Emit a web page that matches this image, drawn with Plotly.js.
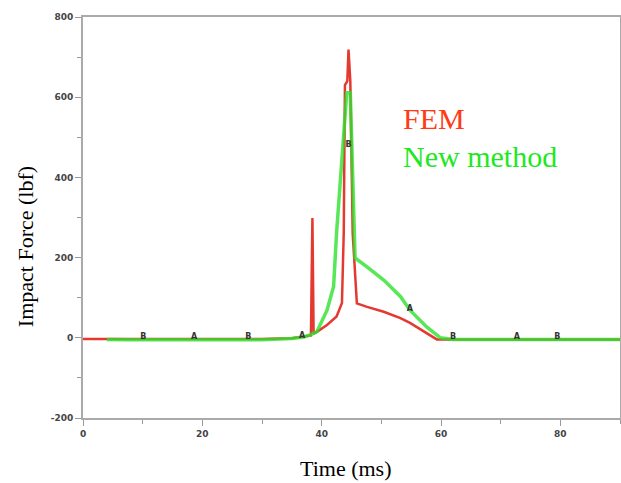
<!DOCTYPE html>
<html>
<head>
<meta charset="utf-8">
<script src="https://cdn.plot.ly/plotly-3.0.1.min.js"></script>
<style>html,body{margin:0;padding:0;background:#fff;}#chart{width:621px;height:483px;}</style>
</head>
<body>
<div id="chart"></div>
<script>
// FEM series (time in ms, force in lbf)
const femTime  = [0, 4, 10, 20, 30, 35, 37, 38.2, 38.45, 38.65, 39.5, 40.9, 42.5, 43.4, 43.7, 43.9, 44.3, 44.5, 44.8, 45.2, 45.9, 47.6, 50.4, 53.2, 54.8, 57.6, 59.3, 60, 90];
const femForce = [-3, -3, -3, -3, -3, -1, 3, 6, 299, 10, 18, 32, 53, 87, 262, 630, 640, 719, 640, 260, 86, 77, 65, 49, 37, 11, -4, -4, -4];

// New method series
const newTime  = [4, 7.4, 20, 30, 35, 37, 38.2, 39.2, 40.9, 42.0, 42.5, 43.4, 44.2, 44.8, 45.4, 45.6, 47.6, 50.4, 53.2, 54.8, 57.6, 59.9, 62, 90];
const newForce = [-4, -5, -5, -5, -2, 2, 8, 15, 69, 128, 262, 461, 611, 611, 262, 199, 177, 144, 103, 69, 27, 0, -4, -4];

// Small letter markers from the original plot
const markTime   = [10.1, 18.6, 27.7, 36.7, 44.5, 54.8, 62, 72.7, 79.5];
const markForce  = [3, 3, 3, 5, 480, 72, 3, 3, 3];
const markLabels = ["B", "A", "B", "A", "B", "A", "B", "A", "B"];

const xTicks = [0, 20, 40, 60, 80];
const yTicks = [-200, 0, 200, 400, 600, 800];

const traces = [
  {x: femTime, y: femForce, mode: 'lines', name: 'FEM',
   line: {color: 'rgba(225,35,25,0.9)', width: 2.5}, hoverinfo: 'skip'},
  {x: newTime, y: newForce, mode: 'lines', name: 'New method',
   line: {color: 'rgba(45,225,45,0.8)', width: 3.5}, hoverinfo: 'skip'},
  {x: markTime, y: markForce, mode: 'text', text: markLabels,
   textfont: {family: 'DejaVu Sans', size: 8, color: '#333', weight: 'bold'}, hoverinfo: 'skip'}
];

const axisCommon = {
  showline: true, linecolor: '#aaaaaa', linewidth: 2, mirror: true,
  ticks: 'outside', ticklen: 6, tickcolor: '#999', tickwidth: 1,
  showgrid: false, zeroline: false,
  tickfont: {family: 'DejaVu Sans', size: 9, color: '#444', weight: 'bold'}
};

const layout = {
  width: 621, height: 483,
  margin: {l: 83, r: 1, t: 17, b: 65},
  paper_bgcolor: '#fff', plot_bgcolor: '#fff',
  showlegend: false,
  xaxis: Object.assign({}, axisCommon, {
    range: [0, 90], tickvals: xTicks, ticktext: xTicks.map(String),
    minor: {dtick: 10, tick0: 0, ticks: 'outside', ticklen: 4, tickcolor: '#999'}
  }),
  yaxis: Object.assign({}, axisCommon, {
    range: [-200, 800], tickvals: yTicks, ticktext: yTicks.map(String),
    minor: {dtick: 100, tick0: 0, ticks: 'outside', ticklen: 4, tickcolor: '#999'}
  }),
  annotations: [
    {text: 'Time (ms)', xref: 'paper', yref: 'paper', x: 0.488, y: -0.125,
     xanchor: 'center', yanchor: 'middle', showarrow: false,
     font: {family: 'Liberation Serif', size: 22, color: '#000'}},
    {text: 'Impact Force (lbf)', xref: 'paper', yref: 'paper', x: -0.108, y: 0.426,
     xanchor: 'center', yanchor: 'middle', textangle: -90, showarrow: false,
     font: {family: 'Liberation Serif', size: 22, color: '#000'}},
    {text: 'FEM', xref: 'paper', yref: 'paper', x: 0.592, y: 0.748,
     xanchor: 'left', yanchor: 'middle', showarrow: false,
     font: {family: 'Liberation Serif', size: 30, color: '#ff3a14'}},
    {text: 'New method', xref: 'paper', yref: 'paper', x: 0.592, y: 0.651,
     xanchor: 'left', yanchor: 'middle', showarrow: false,
     font: {family: 'Liberation Serif', size: 30, color: '#1ee81e'}}
  ]
};

Plotly.newPlot('chart', traces, layout, {staticPlot: true, displayModeBar: false});
</script>
</body>
</html>
